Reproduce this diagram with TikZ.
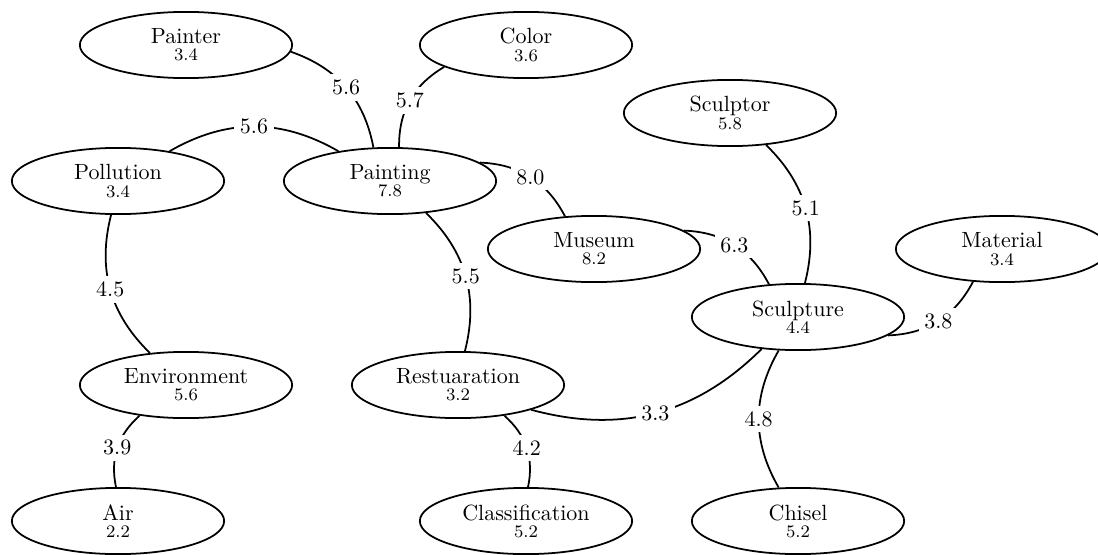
\documentclass[tikz,border=0pt]{standalone}
\usetikzlibrary{shapes.geometric}
\begin{document}
\begin{tikzpicture}[x=0.4545pt, y=-0.4545pt,
  concept/.style={ellipse, draw, line width=0.8pt, minimum width=96.5pt,
    minimum height=30.1pt, inner sep=1pt, align=center},
  link/.style={line width=0.8pt},
  weight/.style={fill=white, inner sep=2.5pt}]
\clip (0,0) rectangle (1098,554);

% concepts with their scores
\node[concept] (painter)        at (186,45)  {Painter\\[-4.2pt]\footnotesize 3.4};
\node[concept] (color)          at (526,45)  {Color\\[-4.2pt]\footnotesize 3.6};
\node[concept] (sculptor)       at (730,113) {Sculptor\\[-4.2pt]\footnotesize 5.8};
\node[concept] (pollution)      at (118,181) {Pollution\\[-4.2pt]\footnotesize 3.4};
\node[concept] (painting)       at (390,181) {Painting\\[-4.2pt]\footnotesize 7.8};
\node[concept] (museum)         at (594,249) {Museum\\[-4.2pt]\footnotesize 8.2};
\node[concept] (material)       at (1002,249) {Material\\[-4.2pt]\footnotesize 3.4};
\node[concept] (sculpture)      at (798,317) {Sculpture\\[-4.2pt]\footnotesize 4.4};
\node[concept] (environment)    at (186,385) {Environment\\[-4.2pt]\footnotesize 5.6};
\node[concept] (restoration)    at (458,385) {Restuaration\\[-4.2pt]\footnotesize 3.2};
\node[concept] (air)            at (118,521) {Air\\[-4.2pt]\footnotesize 2.2};
\node[concept] (classification) at (526,521) {Classification\\[-4.2pt]\footnotesize 5.2};
\node[concept] (chisel)         at (798,521) {Chisel\\[-4.2pt]\footnotesize 5.2};

% weighted relations
\draw[link] (painter)     to[bend left=30]  node[weight] {5.6} (painting);
\draw[link] (color)       to[bend right=30] node[weight] {5.7} (painting);
\draw[link] (pollution)   to[bend left=30]  node[weight] {5.6} (painting);
\draw[link] (painting)    to[bend left=30]  node[weight] {8.0} (museum);
\draw[link] (museum)      to[bend left=30]  node[weight] {6.3} (sculpture);
\draw[link] (sculptor)    to[bend left=30]  node[weight] {5.1} (sculpture);
\draw[link] (pollution)   to[bend right=30] node[weight] {4.5} (environment);
\draw[link] (environment) to[bend right=30] node[weight] {3.9} (air);
\draw[link] (painting)    to[bend left=30]  node[weight] {5.5} (restoration);
\draw[link] (restoration) to[bend left=30]  node[weight] {4.2} (classification);
\draw[link] (restoration) to[bend right=30] node[weight] {3.3} (sculpture);
\draw[link] (sculpture)   to[bend right=30] node[weight] {4.8} (chisel);
\draw[link] (material)    to[bend left=30]  node[weight] {3.8} (sculpture);
\end{tikzpicture}
\end{document}
